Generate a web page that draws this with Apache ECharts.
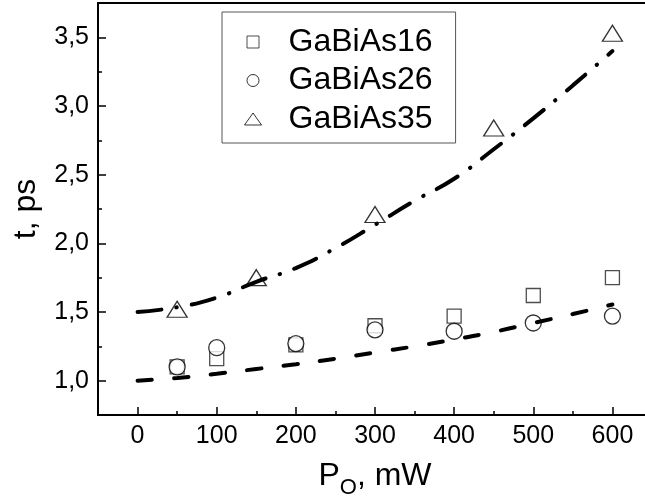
<!DOCTYPE html>
<html><head><meta charset="utf-8">
<script src="https://cdn.jsdelivr.net/npm/echarts@6/dist/echarts.min.js"></script>
<style>html,body{margin:0;padding:0;background:#fff}#c{width:645px;height:499px}</style>
</head><body><div id="c"></div>
<script>
const seriesNames = ['GaBiAs16', 'GaBiAs26', 'GaBiAs35'];
const power = [50, 100, 200, 300, 400, 500, 600];
const tau16 = [1.10, 1.16, 1.26, 1.40, 1.47, 1.62, 1.75];
const tau26 = [1.10, 1.24, 1.27, 1.37, 1.36, 1.42, 1.47];
const power35 = [50, 150, 300, 450, 600];
const tau35 = [1.52, 1.75, 2.21, 2.84, 3.53];
const fitX = [0, 50, 100, 150, 200, 250, 300, 350, 400, 450, 500, 550, 600];
const fitLow = [1.00, 1.02, 1.05, 1.085, 1.12, 1.16, 1.205, 1.25, 1.30, 1.355, 1.42, 1.485, 1.555];
const fitHigh = [1.50, 1.535, 1.605, 1.72, 1.82, 1.965, 2.135, 2.31, 2.47, 2.685, 2.91, 3.15, 3.40];
const xMajor = [0, 100, 200, 300, 400, 500, 600];
const xMinor = [50, 150, 250, 350, 450, 550, 650];
const yMajor = [1.0, 1.5, 2.0, 2.5, 3.0, 3.5];
const yMinor = [1.25, 1.75, 2.25, 2.75, 3.25];

const FF = '"Liberation Sans", Arial, sans-serif';
const zip = (xs, ys) => xs.map((x, i) => [x, ys[i]]);

const chart = echarts.init(document.getElementById('c'), null, {renderer: 'canvas'});
const axisBase = {
  type: 'value', splitLine: {show: false}
};
chart.setOption({
  animation: false,
  backgroundColor: '#fff',
  grid: {left: 98, top: 3, width: 554, height: 412, show: true, borderColor: '#000', borderWidth: 2,
    backgroundColor: 'transparent', outerBoundsMode: 'none', containLabel: false},
  legend: {
    orient: 'vertical', left: 222, top: 12, padding: [14, 23, 8, 22],
    itemGap: 6.5, itemWidth: 17, itemHeight: 12,
    borderColor: '#555', borderWidth: 1,
    textStyle: {fontSize: 32, fontFamily: FF, color: '#000', padding: [0, 0, 0, 22]},
    itemStyle: {borderWidth: 1},
    data: [
      {name: seriesNames[0], icon: 'path://M0,0L10,0L10,10L0,10Z'},
      {name: seriesNames[1], icon: 'circle'},
      {name: seriesNames[2], icon: 'triangle'}
    ]
  },
  xAxis: [
    Object.assign({}, axisBase, {
      min: -50, max: 650, position: 'bottom',
      axisLine: {onZero: false, lineStyle: {color: '#000', width: 2}},
      axisTick: {inside: true, length: 8, lineStyle: {color: '#000', width: 1.5}, customValues: xMajor},
      axisLabel: {customValues: xMajor, fontSize: 25, fontFamily: FF, color: '#000', margin: 9},
      name: '{a|P}{b|O}{a|, mW}', nameLocation: 'middle', nameGap: 45,
      nameTextStyle: {
        rich: {
          a: {fontSize: 32, fontFamily: FF, color: '#000', lineHeight: 32, verticalAlign: 'top'},
          b: {fontSize: 22, fontFamily: FF, color: '#000', lineHeight: 22, verticalAlign: 'top', padding: [17, 0, 0, 0]}
        }
      }
    }),
    Object.assign({}, axisBase, {
      min: -50, max: 650, position: 'bottom',
      axisLine: {show: false, onZero: false},
      axisTick: {inside: true, length: 4, lineStyle: {color: '#000', width: 1.5}, customValues: xMinor},
      axisLabel: {show: false}
    })
  ],
  yAxis: [
    Object.assign({}, axisBase, {
      min: 0.75, max: 3.75, position: 'left',
      axisLine: {show: true, onZero: false, lineStyle: {color: '#000', width: 2}},
      axisTick: {show: true, inside: true, length: 8, lineStyle: {color: '#000', width: 1.5}, customValues: yMajor},
      axisLabel: {customValues: yMajor, fontSize: 25, fontFamily: FF, color: '#000', margin: 9,
        formatter: v => v.toFixed(1).replace('.', ',')},
      name: 't, ps', nameLocation: 'middle', nameGap: 56,
      nameTextStyle: {fontSize: 32, fontFamily: FF, color: '#000'}
    }),
    Object.assign({}, axisBase, {
      min: 0.75, max: 3.75, position: 'left',
      axisLine: {show: false, onZero: false},
      axisTick: {show: true, inside: true, length: 4, lineStyle: {color: '#000', width: 1.5}, customValues: yMinor},
      axisLabel: {show: false}
    })
  ],
  series: [
    {
      name: seriesNames[0], type: 'scatter', symbol: 'rect', symbolSize: 14, z: 2,
      itemStyle: {color: '#fff', borderColor: '#222', borderWidth: 1.3},
      data: zip(power, tau16)
    },
    {
      name: seriesNames[1], type: 'scatter', symbol: 'circle', symbolSize: 16, z: 3,
      itemStyle: {color: '#fff', borderColor: '#000', borderWidth: 1.3},
      data: zip(power, tau26)
    },
    {
      name: seriesNames[2], type: 'scatter', symbol: 'triangle', symbolSize: [20, 16], z: 3,
      itemStyle: {color: '#fff', borderColor: '#000', borderWidth: 1.3},
      data: zip(power35, tau35)
    },
    {
      name: 'fitLow', type: 'line', smooth: true, showSymbol: false, z: 5, silent: true,
      lineStyle: {color: '#000', width: 4, type: [14.3, 22.4], cap: 'round'},
      data: zip(fitX, fitLow)
    },
    {
      name: 'fitHigh', type: 'line', smooth: true, showSymbol: false, z: 5, silent: true,
      lineStyle: {color: '#000', width: 4, type: [24, 15, 0.5, 15], cap: 'round'},
      data: zip(fitX, fitHigh)
    }
  ]
});
</script>
</body></html>
